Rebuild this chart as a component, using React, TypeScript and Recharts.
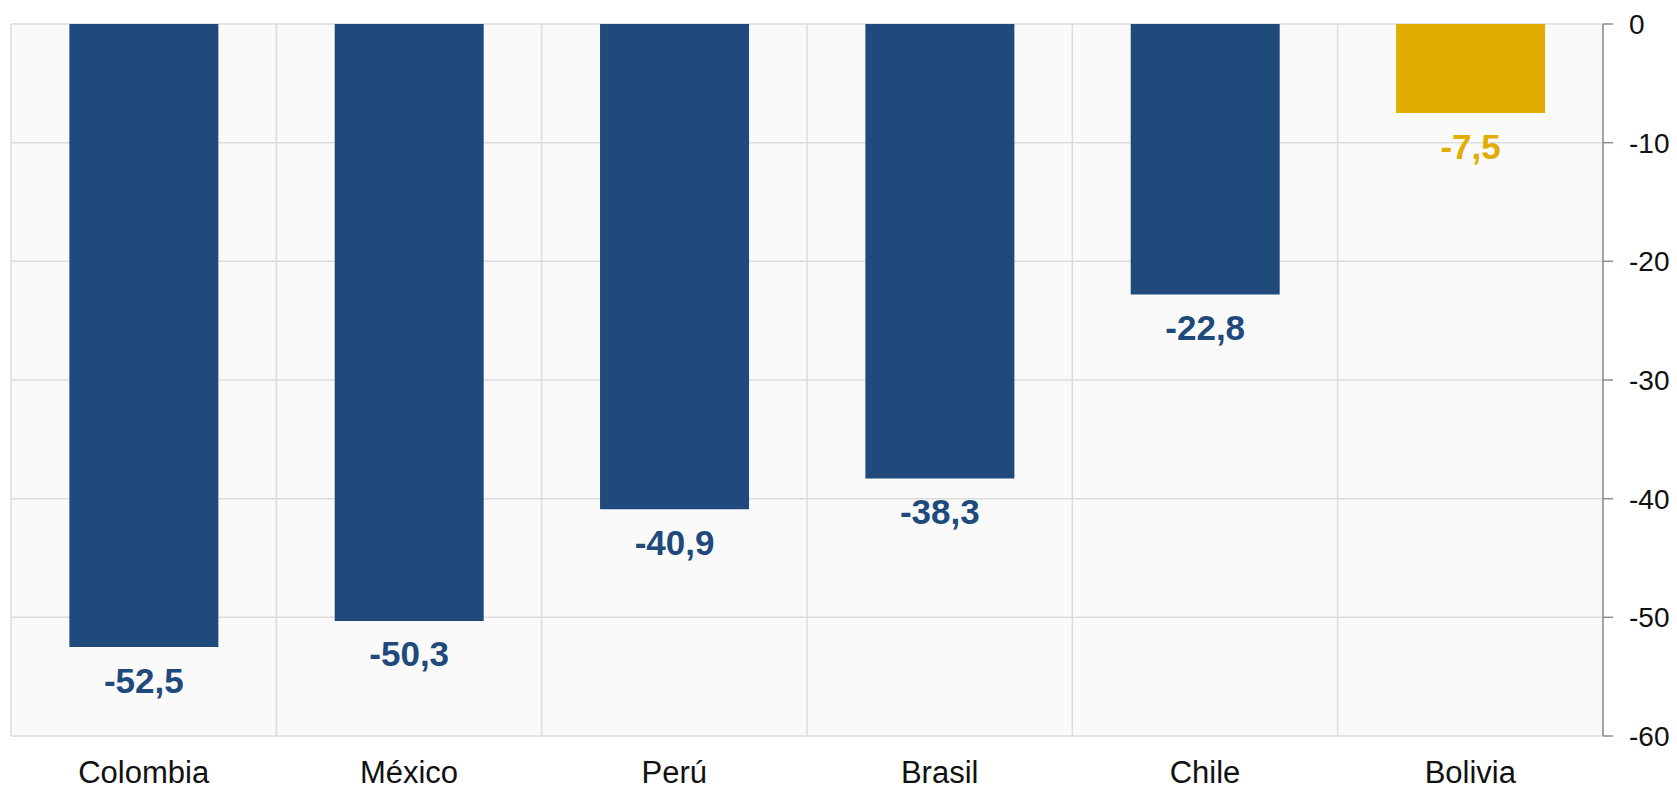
import React from 'react';
import { BarChart, Bar, XAxis, YAxis, CartesianGrid, Cell, LabelList } from 'recharts';

const categories = ['Colombia', 'México', 'Perú', 'Brasil', 'Chile', 'Bolivia'];
const values = [-52.5, -50.3, -40.9, -38.3, -22.8, -7.5];
const barColors = ['#204A7C', '#204A7C', '#204A7C', '#204A7C', '#204A7C', '#E2AC00'];
const yTicks = [0, -10, -20, -30, -40, -50, -60];

const data = categories.map((c, i) => ({ name: c, value: values[i], color: barColors[i] }));

const FONT = '"Liberation Sans", Arial, sans-serif';

const ValueLabel = (props: any) => {
  const { x, y, width, height, value, index } = props;
  const bottom = Math.max(y, y + height);
  return (
    <text
      x={x + width / 2}
      y={bottom + 33}
      textAnchor="middle"
      dominantBaseline="central"
      fontFamily={FONT}
      fontWeight="bold"
      fontSize={35}
      fill={barColors[index]}
    >
      {Number(value).toFixed(1).replace('.', ',')}
    </text>
  );
};

const vGen = ({ offset }: any) => {
  const n = categories.length;
  const pts: number[] = [];
  for (let i = 0; i <= n; i++) pts.push(offset.left + (offset.width * i) / n);
  return pts;
};

export default function App() {
  return (
    <div style={{ position: 'absolute', left: 0, top: 0, background: '#fff' }}>
      <BarChart
        width={1677}
        height={787}
        data={data}
        margin={{ top: 24, left: 11, right: 0, bottom: 0 }}
        barCategoryGap="22%"
      >
        <CartesianGrid
          fill="#FAFAFA"
          stroke="#DCDCDC"
          strokeWidth={1.5}
          verticalCoordinatesGenerator={vGen}
        />
        <XAxis
          dataKey="name"
          height={51}
          axisLine={false}
          tickLine={false}
          tickSize={0}
          tickMargin={25}
          tick={{ fontFamily: FONT, fontSize: 31, fill: '#111' }}
          interval={0}
        />
        <YAxis
          orientation="right"
          width={74}
          domain={[-60, 0]}
          ticks={yTicks}
          allowDataOverflow
          axisLine={{ stroke: '#8C8C8C', strokeWidth: 1.5 }}
          tickLine={{ stroke: '#8C8C8C', strokeWidth: 1.5 }}
          tickSize={10}
          tickMargin={16}
          tick={{ fontFamily: FONT, fontSize: 28, fill: '#111' }}
        />
        <Bar dataKey="value" isAnimationActive={false}>
          {data.map((d, i) => (
            <Cell key={i} fill={d.color} />
          ))}
          <LabelList dataKey="value" content={<ValueLabel />} />
        </Bar>
      </BarChart>
    </div>
  );
}
